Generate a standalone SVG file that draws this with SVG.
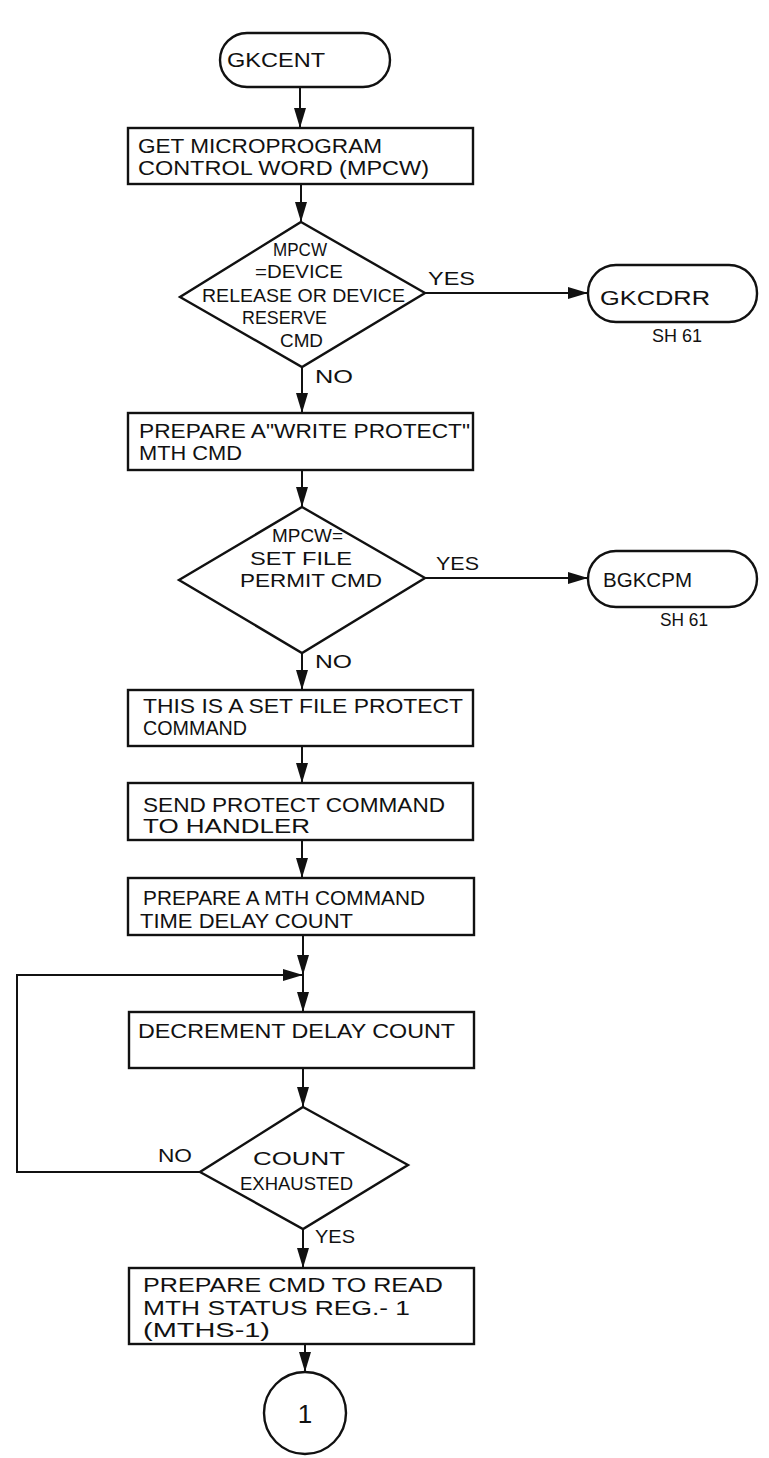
<svg xmlns="http://www.w3.org/2000/svg" width="769" height="1458" viewBox="0 0 769 1458">
<style>
.shape{fill:#fff;stroke:#111;stroke-width:2.4}
.t{font-family:"Liberation Sans",Arial,sans-serif;font-size:20px;fill:#111}
.s{font-family:"Liberation Sans",Arial,sans-serif;font-size:18.5px;fill:#111}
.c{fill:none;stroke:#111;stroke-width:2}
</style>
<defs>
<marker id="ah" markerWidth="20" markerHeight="12" refX="20" refY="6" orient="auto" markerUnits="userSpaceOnUse">
<path d="M0,0 L20,6 L0,12 Z" fill="#111"/>
</marker>
</defs>
<rect width="769" height="1458" fill="#fff"/>
<g id="connectors">
<path class="c" d="M300,87 L300,128" marker-end="url(#ah)"/>
<path class="c" d="M301,184 L301,222" marker-end="url(#ah)"/>
<path class="c" d="M425,293 L588,293" marker-end="url(#ah)"/>
<path class="c" d="M302,367 L302,413" marker-end="url(#ah)"/>
<path class="c" d="M302,470 L302,507" marker-end="url(#ah)"/>
<path class="c" d="M425,578 L588,578" marker-end="url(#ah)"/>
<path class="c" d="M302,653 L302,690" marker-end="url(#ah)"/>
<path class="c" d="M302,746 L302,783" marker-end="url(#ah)"/>
<path class="c" d="M302,840 L302,878" marker-end="url(#ah)"/>
<path class="c" d="M303,935 L303,975" marker-end="url(#ah)"/>
<path class="c" d="M303,975 L303,1012" marker-end="url(#ah)"/>
<path class="c" d="M200,1172 L17,1172 L17,975 L303,975" marker-end="url(#ah)"/>
<path class="c" d="M303,1068 L303,1107" marker-end="url(#ah)"/>
<path class="c" d="M303,1229 L303,1268" marker-end="url(#ah)"/>
<path class="c" d="M305,1344 L305,1372" marker-end="url(#ah)"/>
<text class="s" x="428" y="285" textLength="47" lengthAdjust="spacingAndGlyphs">YES</text>
<text class="s" x="315" y="383" textLength="38" lengthAdjust="spacingAndGlyphs">NO</text>
<text class="s" x="436" y="570" textLength="43" lengthAdjust="spacingAndGlyphs">YES</text>
<text class="s" x="315" y="668" textLength="37" lengthAdjust="spacingAndGlyphs">NO</text>
<text class="s" x="158" y="1162" textLength="34" lengthAdjust="spacingAndGlyphs">NO</text>
<text class="s" x="315" y="1243" textLength="40" lengthAdjust="spacingAndGlyphs">YES</text>
</g>
<g id="gkcent">
<rect class="shape" x="220" y="33" width="170" height="54" rx="27" ry="27"/>
<text class="t" x="227" y="67" textLength="98" lengthAdjust="spacingAndGlyphs">GKCENT</text>
</g>
<g id="get-mpcw">
<rect class="shape" x="128" y="128" width="345" height="56"/>
<text class="t" x="138" y="153" textLength="244" lengthAdjust="spacingAndGlyphs">GET MICROPROGRAM</text>
<text class="t" x="138" y="175" textLength="291" lengthAdjust="spacingAndGlyphs">CONTROL WORD (MPCW)</text>
</g>
<g id="dec-device">
<polygon class="shape" points="301,222 425,293 302,367 180,297"/>
<text class="s" x="273" y="256" textLength="54" lengthAdjust="spacingAndGlyphs">MPCW</text>
<text class="s" x="255" y="278" textLength="88" lengthAdjust="spacingAndGlyphs">=DEVICE</text>
<text class="s" x="202" y="302" textLength="203" lengthAdjust="spacingAndGlyphs">RELEASE OR DEVICE</text>
<text class="s" x="242" y="324" textLength="85" lengthAdjust="spacingAndGlyphs">RESERVE</text>
<text class="s" x="280" y="347" textLength="43" lengthAdjust="spacingAndGlyphs">CMD</text>
</g>
<g id="gkcdrr">
<rect class="shape" x="588" y="265" width="169" height="57" rx="28" ry="28"/>
<text class="t" x="600" y="305" textLength="110" lengthAdjust="spacingAndGlyphs">GKCDRR</text>
<text class="s" x="652" y="342" textLength="50" lengthAdjust="spacingAndGlyphs">SH 61</text>
</g>
<g id="write-protect">
<rect class="shape" x="128" y="413" width="345" height="57"/>
<text class="t" x="139" y="438" textLength="331" lengthAdjust="spacingAndGlyphs">PREPARE A"WRITE PROTECT"</text>
<text class="t" x="139" y="460" textLength="103" lengthAdjust="spacingAndGlyphs">MTH CMD</text>
</g>
<g id="dec-permit">
<polygon class="shape" points="302,507 425,578 302,653 179,580"/>
<text class="s" x="272" y="542" textLength="71" lengthAdjust="spacingAndGlyphs">MPCW=</text>
<text class="s" x="250" y="565" textLength="102" lengthAdjust="spacingAndGlyphs">SET FILE</text>
<text class="s" x="240" y="587" textLength="142" lengthAdjust="spacingAndGlyphs">PERMIT CMD</text>
</g>
<g id="bgkcpm">
<rect class="shape" x="588" y="551" width="169" height="56" rx="28" ry="28"/>
<text class="t" x="603" y="587" textLength="89" lengthAdjust="spacingAndGlyphs">BGKCPM</text>
<text class="s" x="660" y="626" textLength="48" lengthAdjust="spacingAndGlyphs">SH 61</text>
</g>
<g id="set-file-protect">
<rect class="shape" x="128" y="690" width="345" height="56"/>
<text class="t" x="143" y="713" textLength="320" lengthAdjust="spacingAndGlyphs">THIS IS A SET  FILE PROTECT</text>
<text class="t" x="143" y="735" textLength="104" lengthAdjust="spacingAndGlyphs">COMMAND</text>
</g>
<g id="send-protect">
<rect class="shape" x="128" y="783" width="345" height="57"/>
<text class="t" x="143" y="812" textLength="302" lengthAdjust="spacingAndGlyphs">SEND PROTECT COMMAND</text>
<text class="t" x="143" y="833" textLength="167" lengthAdjust="spacingAndGlyphs">TO HANDLER</text>
</g>
<g id="time-delay">
<rect class="shape" x="128" y="878" width="346" height="57"/>
<text class="t" x="143" y="905" textLength="282" lengthAdjust="spacingAndGlyphs">PREPARE A MTH COMMAND</text>
<text class="t" x="140" y="928" textLength="213" lengthAdjust="spacingAndGlyphs">TIME DELAY COUNT</text>
</g>
<g id="decrement">
<rect class="shape" x="129" y="1012" width="345" height="56"/>
<text class="t" x="138" y="1038" textLength="317" lengthAdjust="spacingAndGlyphs">DECREMENT DELAY COUNT</text>
</g>
<g id="dec-exhausted">
<polygon class="shape" points="303,1107 408,1165 303,1229 200,1172"/>
<text class="s" x="253" y="1165" textLength="92" lengthAdjust="spacingAndGlyphs">COUNT</text>
<text class="s" x="240" y="1190" textLength="113" lengthAdjust="spacingAndGlyphs">EXHAUSTED</text>
</g>
<g id="read-mths">
<rect class="shape" x="129" y="1268" width="345" height="76"/>
<text class="t" x="143" y="1292" textLength="300" lengthAdjust="spacingAndGlyphs">PREPARE CMD TO READ</text>
<text class="t" x="143" y="1315" textLength="267" lengthAdjust="spacingAndGlyphs">MTH STATUS REG.- 1</text>
<text class="t" x="143" y="1337" textLength="127" lengthAdjust="spacingAndGlyphs">(MTHS-1)</text>
</g>
<g id="connector-1">
<circle class="shape" cx="305" cy="1413" r="41"/>
<text class="t" x="305" y="1423" text-anchor="middle" style="font-size:26px">1</text>
</g>
</svg>
